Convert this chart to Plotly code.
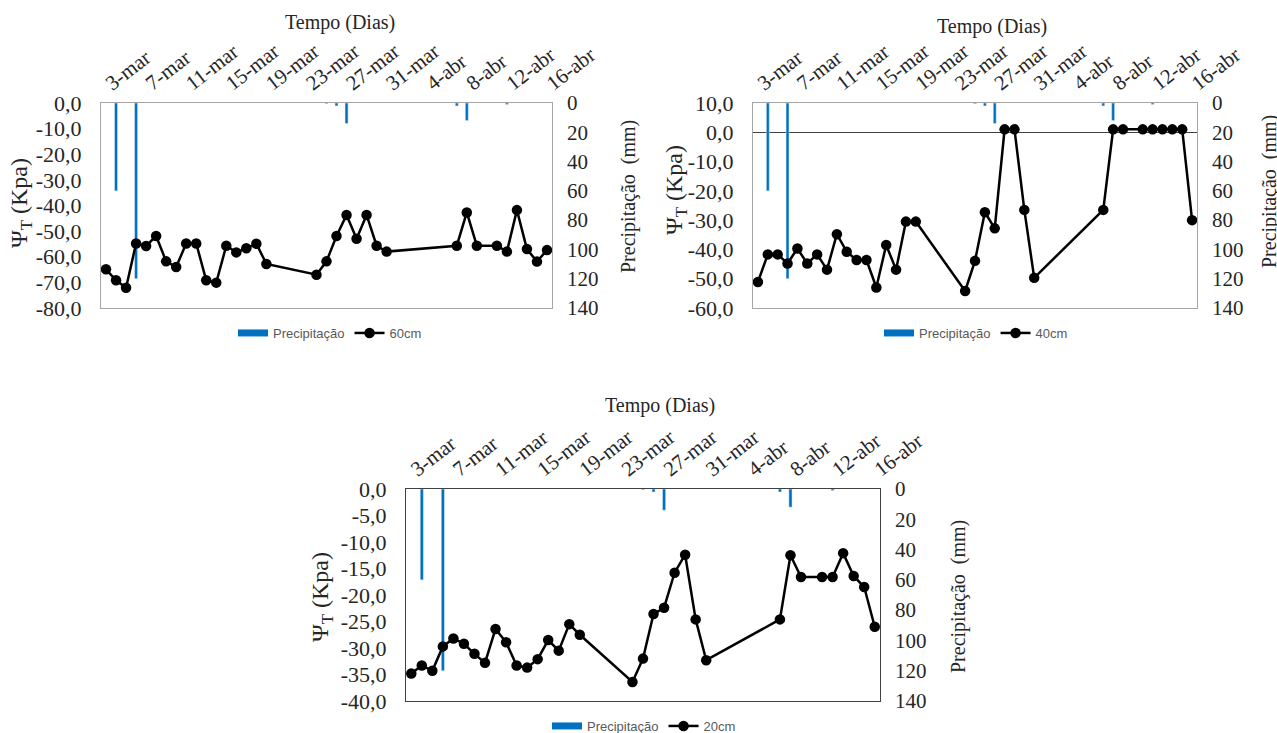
import plotly.graph_objects as go

# ---- categories (days on the time axis) ----
days = [f"{d}-mar" for d in range(3, 32)] + [f"{d}-abr" for d in range(1, 17)]
tick_days = days[::4]

# measurement days
meas_days = ([f"{d}-mar" for d in range(3, 20)] + [f"{d}-mar" for d in range(24, 32)]
             + ["7-abr", "8-abr", "9-abr", "11-abr", "12-abr", "13-abr", "14-abr", "15-abr", "16-abr"])

# soil water potential (kPa)
psi_60 = [-64.9, -69.2, -72.1, -54.8, -55.8, -51.9, -61.8, -64.0, -54.8, -54.8, -69.2, -70.1,
          -55.7, -58.3, -56.7, -54.9, -62.8,
          -67.0, -61.8, -51.9, -43.7, -53.0, -43.7, -55.7, -58.0,
          -55.7, -42.7, -55.7, -55.7, -58.0, -41.8, -57.0, -61.9, -57.4]
psi_40 = [-51.1, -41.7, -41.7, -44.8, -39.7, -44.8, -41.7, -46.9, -34.8, -40.8, -43.6, -43.6,
          -53.0, -38.5, -46.9, -30.5, -30.5,
          -54.2, -43.9, -27.3, -32.8, 1.0, 1.0, -26.5, -49.7,
          -26.5, 1.0, 1.0, 1.0, 1.0, 1.0, 1.0, 1.0, -30.0]
psi_20 = [-34.8, -33.3, -34.3, -29.7, -28.2, -29.2, -31.1, -32.8, -26.4, -28.9, -33.3, -33.7,
          -32.1, -28.5, -30.5, -25.5, -27.5,
          -36.4, -32.0, -23.6, -22.4, -15.8, -12.4, -24.6, -32.3,
          -24.6, -12.5, -16.6, -16.6, -16.6, -12.1, -16.4, -18.5, -26.0]

# precipitation (mm)
rain_days = ["4-mar", "6-mar", "25-mar", "26-mar", "27-mar", "7-abr", "8-abr", "12-abr"]
rain_mm = [60, 120, 0.5, 2, 14, 2, 12, 1]

W, H = 1277, 733
SERIF = "'Liberation Serif', 'Times New Roman', Times, 'DejaVu Serif', serif"
SANS = "'Liberation Sans', Arial, sans-serif"
TXT = "#262626"
BLUE = "#0070C0"

panels = [
    ("60cm", psi_60, (-80, 0), 10, (101, 552, 103, 308), "#A6A6A6", False),
    ("40cm", psi_40, (-60, 10), 10, (753, 1197, 103, 308), "#A6A6A6", True),
    ("20cm", psi_20, (-40, 0), 5, (406, 880, 489, 701), "#404040", False),
]

legend_pos = [(330, 333), (976, 333), (644, 726)]
xtitle_pos = [(340, 22), (992, 27), (660, 405)]
ytitle_pos = [((21, 203), (628, 197)), ((676, 190), (1270, 192)), ((322, 597), (958, 597))]

fig = go.Figure()
layout = dict(
    width=W, height=H, margin=dict(l=0, r=0, t=0, b=0, autoexpand=False),
    plot_bgcolor="white", paper_bgcolor="white",
    font=dict(family=SERIF, size=18, color=TXT),
    annotations=[],
)

def fmt(v):
    return f"{v:.1f}".replace(".", ",")

for i, (depth, data, yr, dt, (x0, x1, y0, y1), bcol, zl) in enumerate(panels):
    n = i + 1
    xa = "x" if n == 1 else f"x{n}"
    ya_rain = f"y{2*n-1}" if n > 1 else "y"
    ya_psi = f"y{2*n}"
    lg = "legend" if n == 1 else f"legend{n}"

    fig.add_trace(go.Bar(
        x=rain_days, y=rain_mm, name="Precipitação", marker_color=BLUE,
        width=0.3, xaxis=xa, yaxis=ya_rain, legend=lg, showlegend=False,
    ))
    # legend key for the bars (wide flat rectangle, as in the original)
    fig.add_trace(go.Scatter(
        x=[None], y=[None], name="Precipitação", mode="lines",
        line=dict(color=BLUE, width=7), xaxis=xa, yaxis=ya_rain, legend=lg,
    ))
    fig.add_trace(go.Scatter(
        x=meas_days, y=data, name=depth, mode="lines+markers",
        line=dict(color="black", width=2.5), marker=dict(color="black", size=10.5),
        xaxis=xa, yaxis=ya_psi, legend=lg,
    ))

    dom_x = [x0 / W, x1 / W]
    dom_y = [1 - y1 / H, 1 - y0 / H]
    xkey = "xaxis" if n == 1 else f"xaxis{n}"
    rkey = "yaxis" if n == 1 else f"yaxis{2*n-1}"
    pkey = f"yaxis{2*n}"

    layout[xkey] = dict(
        domain=dom_x, anchor=ya_rain, side="top", type="category",
        categoryorder="array", categoryarray=days, range=[-0.5, len(days) - 0.5],
        tickmode="array", tickvals=tick_days, ticktext=tick_days, tickangle=-38,
        showline=True, linecolor=bcol, linewidth=1, mirror=True,
        showgrid=False, ticks="", tickfont=dict(family=SERIF, size=21, color=TXT),
    )
    layout[rkey] = dict(
        domain=dom_y, anchor=xa, side="right", range=[140, 0],
        tickmode="array", tickvals=list(range(0, 141, 20)),
        ticktext=[str(v) for v in range(0, 141, 20)],
        showgrid=False, zeroline=False, showline=False, ticks="",
        ticklabelstandoff=14, tickfont=dict(family=SERIF, size=21, color=TXT),
    )
    pvals = list(range(yr[0], yr[1] + 1, dt))
    layout[pkey] = dict(
        overlaying=ya_rain, anchor=xa, side="left", range=list(yr),
        tickmode="array", tickvals=pvals, ticktext=[fmt(v) for v in pvals],
        showgrid=False, showline=True, linecolor=bcol, linewidth=1, mirror=True,
        zeroline=zl, zerolinecolor="#404040", zerolinewidth=1, ticks="",
        ticklabelstandoff=14, tickfont=dict(family=SERIF, size=22, color=TXT),
    )
    lx, ly = legend_pos[i]
    layout[lg] = dict(
        orientation="h", x=lx / W, y=1 - ly / H, xanchor="center", yanchor="middle",
        font=dict(family=SANS, size=13, color="#595959"), bgcolor="rgba(0,0,0,0)",
        itemwidth=30, tracegroupgap=0,
    )
    tx, ty = xtitle_pos[i]
    layout["annotations"].append(dict(
        text="Tempo (Dias)", x=tx / W, y=1 - ty / H, xref="paper", yref="paper",
        showarrow=False, xanchor="center", yanchor="middle",
        font=dict(family=SERIF, size=20, color=TXT),
    ))
    (lx1, ly1), (rx1, ry1) = ytitle_pos[i]
    layout["annotations"].append(dict(
        text="Ψ<sub>T</sub> (Kpa)", x=lx1 / W, y=1 - ly1 / H, xref="paper", yref="paper",
        showarrow=False, xanchor="center", yanchor="middle", textangle=-90,
        font=dict(family=SERIF, size=24, color=TXT),
    ))
    layout["annotations"].append(dict(
        text="Precipitação  (mm)", x=rx1 / W, y=1 - ry1 / H, xref="paper", yref="paper",
        showarrow=False, xanchor="center", yanchor="middle", textangle=-90,
        font=dict(family=SERIF, size=20, color=TXT),
    ))

fig.update_layout(**layout)
fig.write_html(
    "out.html",
    config={"displayModeBar": False},
    post_script="document.body.style.margin='0px';document.documentElement.style.overflow='hidden';",
)
